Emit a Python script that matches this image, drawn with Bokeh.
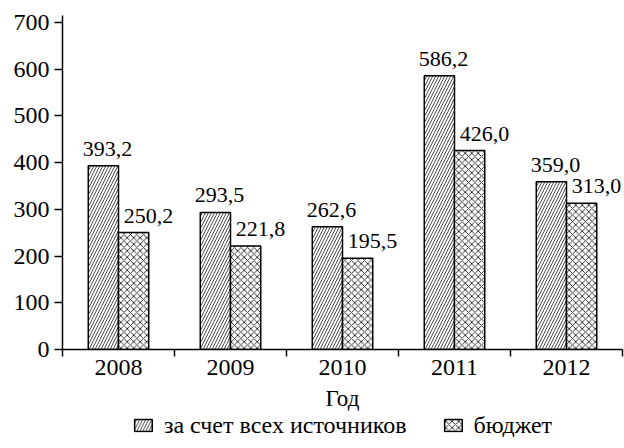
from bokeh.plotting import figure
from bokeh.models import ColumnDataSource, Range1d, FixedTicker, Legend, LegendItem, LabelSet
from bokeh.layouts import column
from bokeh.core.properties import value
from bokeh.embed import file_html
from bokeh.resources import INLINE

years = ["2008", "2009", "2010", "2011", "2012"]
all_sources = [393.2, 293.5, 262.6, 586.2, 359.0]
budget = [250.2, 221.8, 195.5, 426.0, 313.0]
series_names = ["за счет всех источников", "бюджет"]
y_ticks = [0, 100, 200, 300, 400, 500, 600, 700]

FONT = "Liberation Serif"
BAR_W = 0.27

idx = list(range(len(years)))
centers = [i + 0.5 for i in idx]
src_a = ColumnDataSource(dict(
    x=[c - BAR_W / 2 for c in centers], top=all_sources,
    label=[f"{v:.1f}".replace(".", ",") for v in all_sources]))
src_b = ColumnDataSource(dict(
    x=[c + BAR_W / 2 for c in centers], top=budget,
    label=[f"{v:.1f}".replace(".", ",") for v in budget]))

style_a = dict(fill_color="white", line_color="black", line_width=1.5,
               hatch_pattern="/", hatch_scale=6, hatch_weight=0.7, hatch_color="black")
style_b = dict(fill_color="white", line_color="black", line_width=1.5,
               hatch_pattern="x", hatch_scale=6.5, hatch_weight=0.8, hatch_color="black")

p = figure(frame_width=560, frame_height=334, output_backend="svg", toolbar_location=None,
           x_range=Range1d(0, len(years)), y_range=Range1d(0, 715),
           min_border_left=62, min_border_right=2, min_border_top=15, min_border_bottom=0)
p.outline_line_color = None
p.grid.grid_line_color = None

p.vbar(x="x", top="top", width=BAR_W, source=src_a, **style_a)
p.vbar(x="x", top="top", width=BAR_W, source=src_b, **style_b)

p.add_layout(LabelSet(x="x", y="top", text="label", source=src_a, x_offset=4, y_offset=10,
                      text_align="center", text_baseline="bottom",
                      text_font=value(FONT), text_font_size=value("22px"),
                      text_color="black"))
p.add_layout(LabelSet(x="x", y="top", text="label", source=src_b, x_offset=15, y_offset=10,
                      text_align="center", text_baseline="bottom",
                      text_font=value(FONT), text_font_size=value("22px"),
                      text_color="black"))

# x axis
xa = p.xaxis[0]
xa.ticker = FixedTicker(ticks=centers, minor_ticks=[0, 1, 2, 3, 4, 5])
xa.major_label_overrides = {c: y for c, y in zip(centers, years)}
xa.major_tick_out = 0
xa.major_tick_in = 0
xa.minor_tick_out = 7
xa.minor_tick_in = 0
xa.minor_tick_line_color = "black"
xa.minor_tick_line_width = 1.5
xa.major_label_standoff = 3
xa.axis_label = "Год"
xa.axis_label_standoff = 8

# y axis
ya = p.yaxis[0]
ya.ticker = FixedTicker(ticks=y_ticks)
ya.major_tick_out = 8
ya.major_tick_in = 0
ya.minor_tick_out = 0
ya.minor_tick_in = 0
ya.major_label_standoff = 5

for ax in (xa, ya):
    ax.axis_line_color = "black"
    ax.axis_line_width = 1.5
    ax.major_tick_line_color = "black"
    ax.major_tick_line_width = 1.5
    ax.major_label_text_font = FONT
    ax.major_label_text_font_size = "24px"
    ax.major_label_text_color = "black"
    ax.axis_label_text_font = FONT
    ax.axis_label_text_font_size = "23px"
    ax.axis_label_text_font_style = "normal"
    ax.axis_label_text_color = "black"

# legend strip (legend swatches come from hidden renderers with the bar styles)
pl = figure(width=624, height=24, output_backend="svg", toolbar_location=None,
            x_range=Range1d(0, 1), y_range=Range1d(0, 1),
            min_border=0)
pl.axis.visible = False
pl.grid.grid_line_color = None
pl.outline_line_color = None
la = pl.vbar(x=[0.5], bottom=[0.4], top=[0.6], width=0.01, visible=False, **style_a)
lb = pl.vbar(x=[0.5], bottom=[0.4], top=[0.6], width=0.01, visible=False, **style_b)
legend = Legend(items=[LegendItem(label=series_names[0], renderers=[la]),
                       LegendItem(label=series_names[1], renderers=[lb])],
                orientation="horizontal", location="center",
                label_text_font=FONT, label_text_font_size="24px",
                label_text_color="black", glyph_width=22, glyph_height=15,
                label_standoff=10, spacing=35, padding=0, margin=0,
                border_line_color=None, background_fill_alpha=0,
                inactive_fill_alpha=0, click_policy="none")
pl.add_layout(legend, "center")

layout = column(p, pl, spacing=0)
open("out.html", "w").write(file_html(layout, INLINE))
